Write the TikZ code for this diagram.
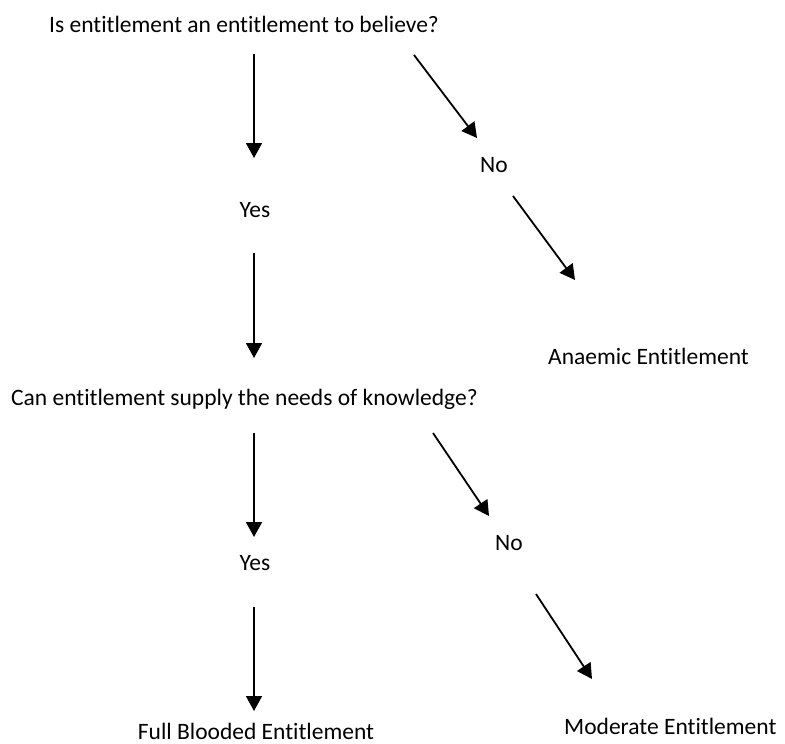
\documentclass[tikz,border=0pt]{standalone}
\usepackage{fontspec}
\setmainfont{Carlito}[Ligatures=CommonOff]
\usetikzlibrary{arrows.meta}
\begin{document}
\begin{tikzpicture}[x=1pt,y=-1pt,
  lbl/.style={inner sep=0pt,font=\fontsize{23.5}{28}\selectfont},
  arr/.style={line width=1.8pt,-{Triangle[width=16pt,length=15pt]}}]
\useasboundingbox (0,0) rectangle (785,744);
% texts
\node[lbl,anchor=base west] (q1) at (49,32) {Is entitlement an entitlement to believe?};
\node[lbl,anchor=base] (no1) at (494,172) {No};
\node[lbl,anchor=base] (yes1) at (255,217) {Yes};
\node[lbl,anchor=base west] (anaemic) at (548,364) {Anaemic Entitlement};
\node[lbl,anchor=base west] (q2) at (11,405) {Can entitlement supply the needs of knowledge?};
\node[lbl,anchor=base] (no2) at (509,550) {No};
\node[lbl,anchor=base] (yes2) at (255,570) {Yes};
\node[lbl,anchor=base] (full) at (256,739) {Full Blooded Entitlement};
\node[lbl,anchor=base west] (moderate) at (564,734) {Moderate Entitlement};
% arrow ends
\coordinate (a1s) at (254,54);  \coordinate (a1e) at (254,158);
\coordinate (a2s) at (414,55);  \coordinate (a2e) at (477,138);
\coordinate (a3s) at (513,196); \coordinate (a3e) at (575,280);
\coordinate (a4s) at (254,253); \coordinate (a4e) at (254,358);
\coordinate (a5s) at (254,433); \coordinate (a5e) at (254,537);
\coordinate (a6s) at (433,433); \coordinate (a6e) at (489,516);
\coordinate (a7s) at (254,607); \coordinate (a7e) at (254,711);
\coordinate (a8s) at (536,594); \coordinate (a8e) at (592,679);
\draw[arr] (a1s) -- (a1e);
\draw[arr] (a2s) -- (a2e);
\draw[arr] (a3s) -- (a3e);
\draw[arr] (a4s) -- (a4e);
\draw[arr] (a5s) -- (a5e);
\draw[arr] (a6s) -- (a6e);
\draw[arr] (a7s) -- (a7e);
\draw[arr] (a8s) -- (a8e);
\end{tikzpicture}
\end{document}
